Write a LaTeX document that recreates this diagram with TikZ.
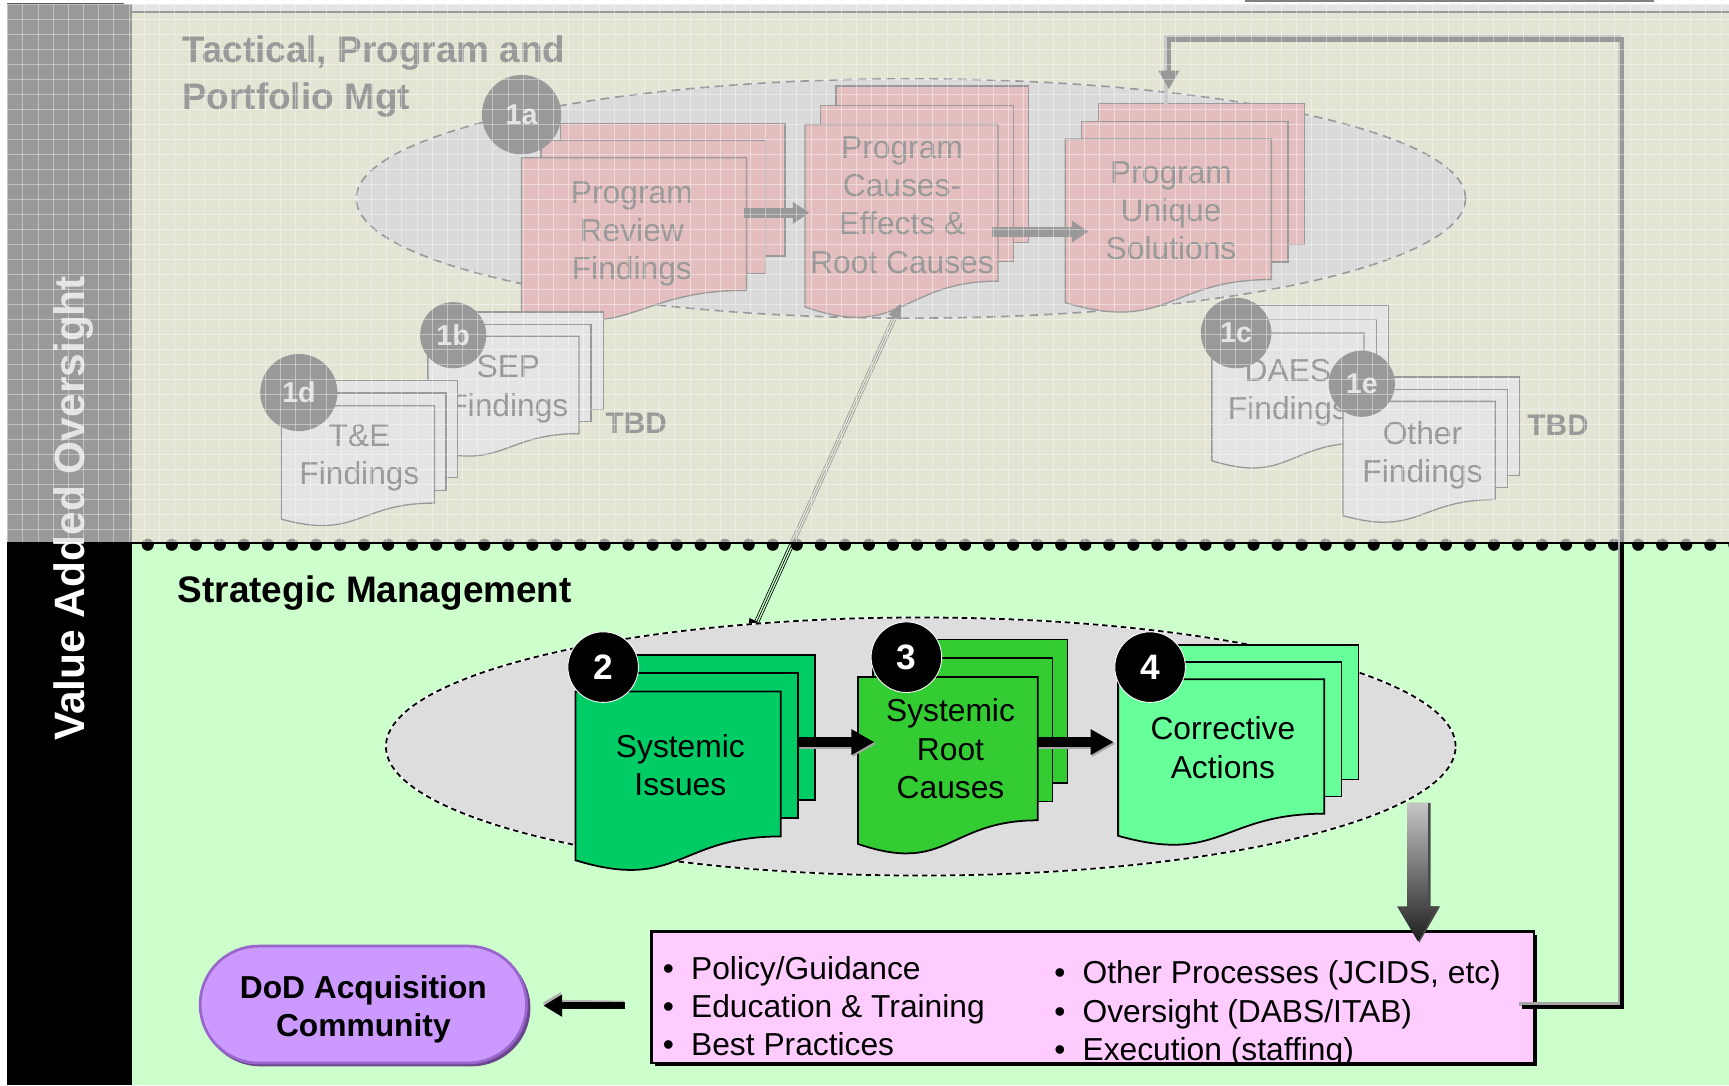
\documentclass[tikz,border=0pt]{standalone}
\usepackage{fontspec}
\setmainfont{Liberation Sans}
\usetikzlibrary{arrows.meta,calc}

\definecolor{topbg}{HTML}{FFFFCC}
\definecolor{botbg}{HTML}{CCFFCC}
\definecolor{ellgrey}{HTML}{DDDDDD}
\definecolor{rosedoc}{HTML}{FF8080}
\definecolor{docA}{HTML}{00CC66}
\definecolor{docB}{HTML}{33CC33}
\definecolor{docC}{HTML}{66FF99}
\definecolor{pinkbox}{HTML}{FFCCFF}
\definecolor{lilac}{HTML}{CC99FF}
\definecolor{lilacedge}{HTML}{9966CC}
\definecolor{veil}{HTML}{D9D9D9}

\newcommand\fsz[2]{\fontsize{#1}{#2}\selectfont}

% stacked document: x0 y0 width height dx dy fill linewidth
\newcommand\mdoc[8]{%
  \foreach \k in {2,1}{%
    \draw[line width=#8, fill=#7] ({#1+\k*#5},{#2-\k*#6}) rectangle ({#1+#3+\k*#5},{#2+0.802*#4-\k*#6});}
  \draw[line width=#8, fill=#7] (#1,#2) -- ({#1+#3},#2) -- ({#1+#3},{#2+0.802*#4})
    .. controls ({#1+0.5*#3},{#2+0.802*#4}) and ({#1+0.5*#3},{#2+1.1075*#4}) .. (#1,{#2+0.934*#4}) -- cycle;}

\begin{document}
\begin{tikzpicture}[x=1pt,y=-1pt,
  doctext/.style={align=center, inner sep=0pt, font=\fsz{28.8}{34.6}},
  numc/.style={circle, fill=black, draw=white, line width=0.8pt, text=white, inner sep=0pt,
    minimum size=64pt, font=\bfseries\fsz{32}{32}},
  tagc/.style={circle, fill=black, text=white, inner sep=0pt, font=\bfseries\fsz{26}{26}},
  heavyarrow/.style={line width=9pt, -{Triangle[length=21pt,width=22pt]}},
  lightarrow/.style={line width=9pt, -{Triangle[length=15pt,width=19pt]}},
  listline/.style={anchor=base west, inner sep=0pt, font=\fsz{28.8}{34.6}},
  headline/.style={anchor=base west, inner sep=0pt, font=\bfseries\fsz{33.5}{40}},
  tbd/.style={anchor=base west, inner sep=0pt, font=\bfseries\fsz{27}{27}},
  ovaldash/.style={line width=1.6pt, dash pattern=on 5pt off 3.5pt},
]
\useasboundingbox (0,0) rectangle (1568,984);
\fill[white] (0,0) rectangle (1568,984);

% ---------------- panels
\fill[topbg] (119,11) rectangle (1568,492);
\fill[botbg] (119,492) rectangle (1568,984);
\fill[black] (6.5,4) rectangle (119.5,984);
\draw[line width=2pt] (119,11) -- (1568,11);
\draw[line width=2.5pt] (119,492.5) -- (1568,492.5);
\foreach \i in {0,...,66} \fill ({134+\i*21.8},494) circle (5.5pt);
\draw[gray, line width=1.2pt] (1129,0.8) -- (1500,0.8);

\node[rotate=90, anchor=base, text=white, inner sep=0pt, font=\bfseries\fsz{38.5}{40}] (vao) at (77,461) {Value Added Oversight};

% ---------------- tactical layer
\node[headline] (tac1) at (165,57) {Tactical, Program and};
\node[headline] (tac2) at (165,99) {Portfolio Mgt};

\coordinate (tell) at (826,180);
\fill[ellgrey] (tell) ellipse [x radius=503pt, y radius=108.5pt];
\draw[white, line width=1.5pt] (tell) ellipse [x radius=503pt, y radius=108.5pt];
\draw[line width=1.5pt, dash pattern=on 8pt off 5pt] (tell) ellipse [x radius=503pt, y radius=108.5pt];

\mdoc{473}{143}{204}{150}{17.5}{15.5}{rosedoc}{1.2pt}
\mdoc{730}{113}{175}{177}{14}{17.5}{rosedoc}{1.2pt}
\mdoc{966}{126}{187}{159}{15}{16}{rosedoc}{1.2pt}
\node[doctext] (prf) at (573,212) {Program\\Review\\Findings};
\node[doctext] (pce) at (818,186) {Program\\Causes-\\Effects \&\\Root Causes};
\node[doctext] (pus) at (1062,191) {Program\\Unique\\Solutions};

\coordinate (ta1s) at (675,193); \coordinate (ta1e) at (734,193);
\coordinate (ta2s) at (900,210); \coordinate (ta2e) at (987,210);
\draw[lightarrow] (ta1s) -- (ta1e);
\draw[lightarrow] (ta2s) -- (ta2e);
\node[tagc, minimum size=72pt] (t1a) at (473,104) {1a};

\mdoc{388}{305}{137}{110}{11}{11}{white}{1.2pt}
\node[doctext] (sep) at (461,353) {SEP\\Findings};
\node[tagc, minimum size=60pt] (t1b) at (411,304) {1b};
\mdoc{255}{368}{139}{110}{10.5}{11.5}{white}{1.2pt}
\node[doctext] (tef) at (326,415) {T\&E\\Findings};
\node[tagc, minimum size=70pt] (t1d) at (271,356) {1d};
\node[tbd] (tbd1) at (549,393) {TBD};

\mdoc{1099}{302}{138}{124}{11}{12.5}{white}{1.2pt}
\node[doctext] (daes) at (1168,356) {DAES\\Findings};
\node[tagc, minimum size=64pt] (t1c) at (1121,302) {1c};
\mdoc{1218}{364}{138}{111}{11}{11}{white}{1.2pt}
\node[doctext] (oth) at (1290,413) {Other\\Findings};
\node[tagc, minimum size=60pt] (t1e) at (1235,348) {1e};
\node[tbd] (tbd2) at (1385,395) {TBD};

% ---------------- link between the two layers
\coordinate (dls) at (817,275); \coordinate (dle) at (679,580);
\draw[line width=0.6pt, shorten <=10pt, shorten >=13pt] ([xshift=1.8pt,yshift=-0.8pt]dls) -- ([xshift=1.8pt,yshift=-0.8pt]dle);
\draw[line width=0.6pt, shorten <=10pt, shorten >=13pt] ([xshift=-1.8pt,yshift=0.8pt]dls) -- ([xshift=-1.8pt,yshift=0.8pt]dle);
\draw[line width=0.6pt, {Triangle[length=14pt,width=12pt]}-{Triangle[length=18pt,width=15pt]}] (dls) -- (dle);

% ---------------- strategic layer
\node[headline] (sm) at (161,546) {Strategic Management};

\coordinate (bell) at (835,677);
\fill[ellgrey] (bell) ellipse [x radius=485pt, y radius=117pt];
\draw[white, line width=1.6pt] (bell) ellipse [x radius=485pt, y radius=117pt];
\draw[ovaldash] (bell) ellipse [x radius=485pt, y radius=117pt];

\mdoc{522}{627}{186}{164}{15.5}{16.5}{docA}{1.6pt}
\mdoc{778}{614}{163}{162}{13.5}{17}{docB}{1.6pt}
\mdoc{1014}{616}{187}{152}{15.5}{15.5}{docC}{1.6pt}
\node[doctext] (sii) at (617,694) {Systemic\\Issues};
\node[doctext] (src) at (862,679) {Systemic\\Root\\Causes};
\node[doctext] (cac) at (1109,678) {Corrective\\Actions};

\coordinate (ba1s) at (724,673); \coordinate (ba1e) at (793,673);
\coordinate (ba2s) at (941,673); \coordinate (ba2e) at (1010,673);
\draw[heavyarrow, gray!70] ([xshift=1.5pt,yshift=-1.5pt]ba1s) -- ([xshift=1.5pt,yshift=-1.5pt]ba1e);
\draw[heavyarrow, gray!70] ([xshift=1.5pt,yshift=-1.5pt]ba2s) -- ([xshift=1.5pt,yshift=-1.5pt]ba2e);
\draw[heavyarrow] (ba1s) -- (ba1e);
\draw[heavyarrow] (ba2s) -- (ba2e);

\node[numc] (n2) at (547,605) {2};
\node[numc] (n3) at (822,596) {3};
\node[numc] (n4) at (1043,605) {4};

% ---------------- outputs box
\fill[black] (594,848) rectangle (1394,967);
\node[fill=pinkbox, minimum width=800pt, minimum height=119pt, inner sep=0pt] (pbox) at (991,904.5) {};
\begin{scope}
  \clip (591,845) rectangle (1391,964);
  \node[listline] (l1) at (601,888) {\textbullet\hspace{15.5pt}Policy/Guidance};
  \node[listline] (l2) at (601,923) {\textbullet\hspace{15.5pt}Education \& Training};
  \node[listline] (l3) at (601,957) {\textbullet\hspace{15.5pt}Best Practices};
  \node[listline] (r1) at (956,892) {\textbullet\hspace{15.5pt}Other Processes (JCIDS, etc)};
  \node[listline] (r2) at (956,927) {\textbullet\hspace{15.5pt}Oversight (DABS/ITAB)};
  \node[listline] (r3) at (956,962) {\textbullet\hspace{15.5pt}Execution (staffing)};
\end{scope}
\draw[line width=2pt] (pbox.south west) rectangle (pbox.north east);

% shaded arrow from the strategic oval down to the box
\coordinate (gs) at (1286,728); \coordinate (ge) at (1286,854);
\fill[gray!60!black] ($(gs)+(-8,0)$) -- ($(gs)+(11.5,0)$) -- ($(ge)+(11.5,-32)$) -- ($(ge)+(20,-32)$) -- ($(ge)+(1,1)$) -- cycle;
\shade[top color=gray!45, bottom color=black!88] ($(gs)+(-10,0)$) -- ($(gs)+(9,0)$) -- ($(ge)+(9,-32)$) -- ($(ge)+(18,-32)$) -- (ge) -- ($(ge)+(-19,-32)$) -- ($(ge)+(-10,-32)$) -- cycle;

% ---------------- DoD community
\fill[lilacedge!70!black, rounded corners=53pt] (183,861) rectangle (481,967);
\node[fill=lilac, draw=lilacedge, line width=2.5pt, rounded corners=53pt, minimum width=296pt,
  minimum height=106pt, inner sep=0pt, align=center, font=\bfseries\fsz{28.8}{34.6}] (dod) at (329.5,911) {};
\node[align=center, inner sep=0pt, font=\bfseries\fsz{28.8}{34.6}] (dodt) at (329.5,915.5) {DoD Acquisition\\Community};
\coordinate (pa) at (567,912);
\draw[gray!60, line width=6pt, -{Triangle[length=17pt,width=19pt]}] ([xshift=-1pt,yshift=1.5pt]pa) -- ([xshift=13pt,yshift=1.5pt]dod.east);
\draw[line width=6pt, -{Triangle[length=17pt,width=19pt]}] (pa) -- ([xshift=14pt]dod.east |- pa);

% ---------------- feedback loop back to the tactical solutions
\coordinate (fbs) at (1380,913); \coordinate (fbr) at (1471,36); \coordinate (fbt) at (1060,81);
\draw[gray!70, line width=3pt] ([xshift=-2.5pt,yshift=2.5pt]fbs) -| ([xshift=-2.5pt,yshift=2.5pt]fbr) -| ([xshift=-2.5pt,yshift=-14pt]fbt);
\draw[line width=4pt, -{Triangle[length=17pt,width=18pt]}] (fbs) -| (fbr) -| (fbt);

% ---------------- veil and grid over the tactical layer
\fill[veil, fill opacity=0.706] (6.5,4) rectangle (1568,491.5);
\begin{scope}
  \clip (6.5,4) rectangle (1568,491.5);
  \foreach \i in {0,...,114} \draw[white, opacity=0.4, line width=0.9pt] ({7+\i*13.75},4) -- ({7+\i*13.75},492);
  \foreach \j in {0,...,35} \draw[white, opacity=0.4, line width=0.9pt] (6,{4.5+\j*13.6}) -- (1568,{4.5+\j*13.6});
\end{scope}
\draw[gray!70!black, line width=1pt] (6.5,3.5) -- (112,3.5);
\end{tikzpicture}
\end{document}
